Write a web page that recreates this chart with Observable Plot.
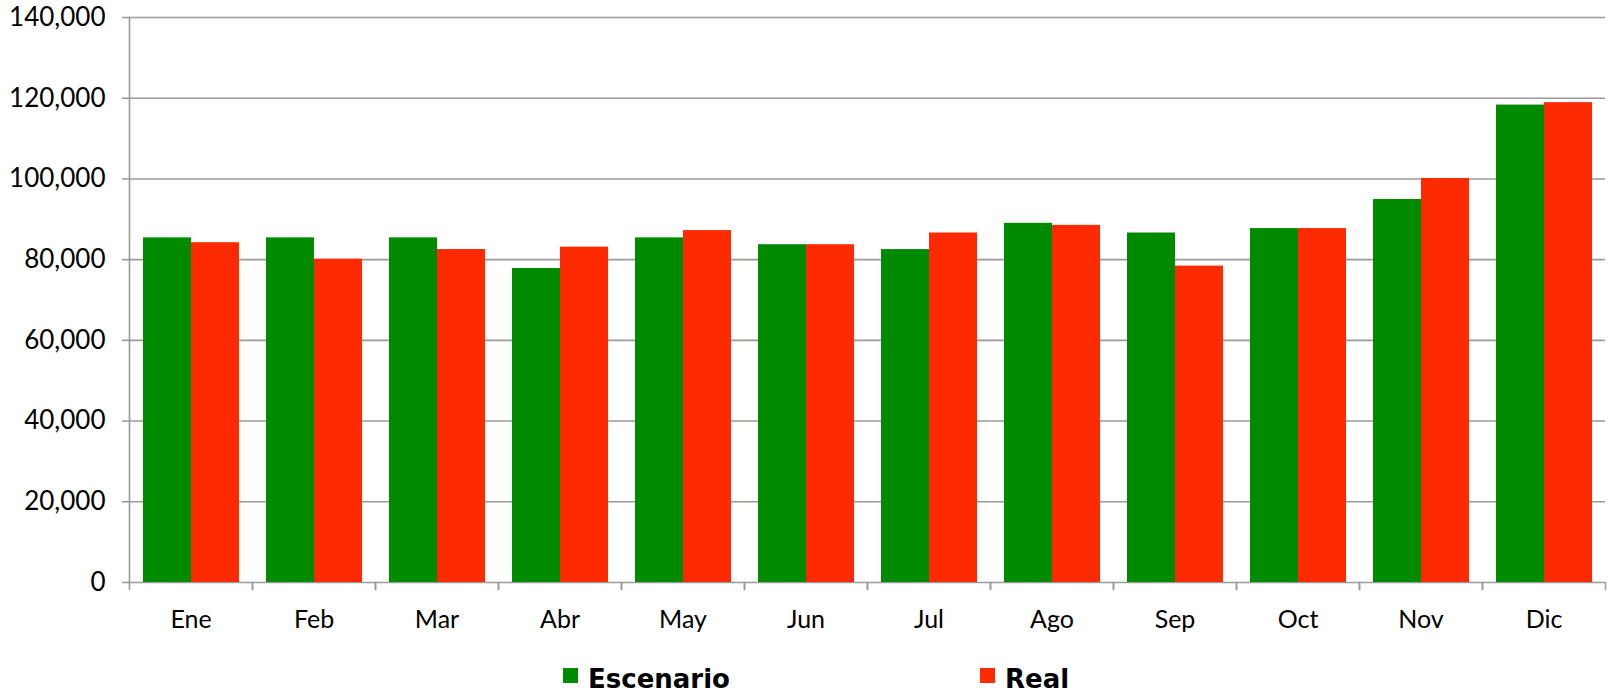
<!DOCTYPE html>
<html>
<head>
<meta charset="utf-8">
<script src="https://cdn.jsdelivr.net/npm/d3@7"></script>
<script src="https://cdn.jsdelivr.net/npm/@observablehq/plot@0.6"></script>
<style>
  body { margin: 0; background: white; font-family: Lato, "Open Sans", sans-serif; }
  #wrap { position: relative; width: 1609px; height: 692px; }
  .sw { position: absolute; width: 15px; height: 15px; top: 668px; }
  .lt { position: absolute; top: 664px; font-family: "DejaVu Sans", sans-serif; font-weight: 700; font-size: 26px; line-height: normal; color: black; white-space: nowrap; }
</style>
</head>
<body>
<div id="wrap"></div>
<script>
const months = ["Ene","Feb","Mar","Abr","May","Jun","Jul","Ago","Sep","Oct","Nov","Dic"];
const series = ["Escenario","Real"];
const escenario = [85400, 85400, 85400, 77800, 85400, 83700, 82500, 89000, 86600, 87700, 94900, 118300];
const real = [84200, 80100, 82500, 83100, 87200, 83700, 86600, 88500, 78400, 87700, 100100, 118900];
const yTicks = [0, 20000, 40000, 60000, 80000, 100000, 120000, 140000];
const colors = ["#008a00", "#ff2a00"];

const data = months.flatMap((m, i) => [
  {month: m, serie: series[0], value: escenario[i]},
  {month: m, serie: series[1], value: real[i]}
]);

const grey = "#9a9a9a";
const line = {draw(context, l) { context.moveTo(0, 0); context.lineTo(0, -l); }};

const chart = Plot.plot({
  width: 1609,
  height: 645,
  marginLeft: 126,
  marginRight: 2,
  marginTop: 17,
  marginBottom: 63,
  style: {fontFamily: "Lato, 'Open Sans', sans-serif", fontSize: "25px", background: "white", color: "black"},
  fx: {domain: months, padding: 0, axis: null, label: null},
  x: {domain: series, paddingInner: 0, paddingOuter: 0.28, axis: null},
  y: {domain: [0, 140000], axis: null},
  color: {domain: series, range: colors},
  marks: [
    Plot.gridY(yTicks, {stroke: grey, strokeOpacity: 1, strokeWidth: 1.6}),
    Plot.barY(data, {fx: "month", x: "serie", y: "value", fill: "serie"}),
    Plot.frame({anchor: "left", fx: () => months[0], stroke: grey, strokeWidth: 1.6}),
    Plot.vector([0], {frameAnchor: "bottom-left", anchor: "start", rotate: 180, length: 7, shape: line, stroke: grey, strokeWidth: 1.6}),
    Plot.vector([0], {frameAnchor: "bottom-right", anchor: "start", rotate: 180, length: 7, shape: line, stroke: grey, strokeWidth: 1.6}),
    Plot.axisY({ticks: yTicks, tickSize: 7, tickPadding: 17, stroke: grey, strokeWidth: 1.6, fill: "black", fontSize: 26, tickFormat: d3.format(","), label: null}),
    Plot.axisFx({anchor: "bottom", tickSize: 0, tickPadding: 28, fill: "black", fontSize: 25, label: null})
  ]
});

const wrap = document.getElementById("wrap");
wrap.appendChild(chart);

const swLeft = [563, 980];
const textLeft = [588, 1005];
series.forEach((s, i) => {
  const sw = document.createElement("div");
  sw.className = "sw";
  sw.style.left = swLeft[i] + "px";
  sw.style.background = colors[i];
  wrap.appendChild(sw);
  const t = document.createElement("div");
  t.className = "lt";
  t.style.left = textLeft[i] + "px";
  t.textContent = s;
  wrap.appendChild(t);
});
</script>
</body>
</html>
